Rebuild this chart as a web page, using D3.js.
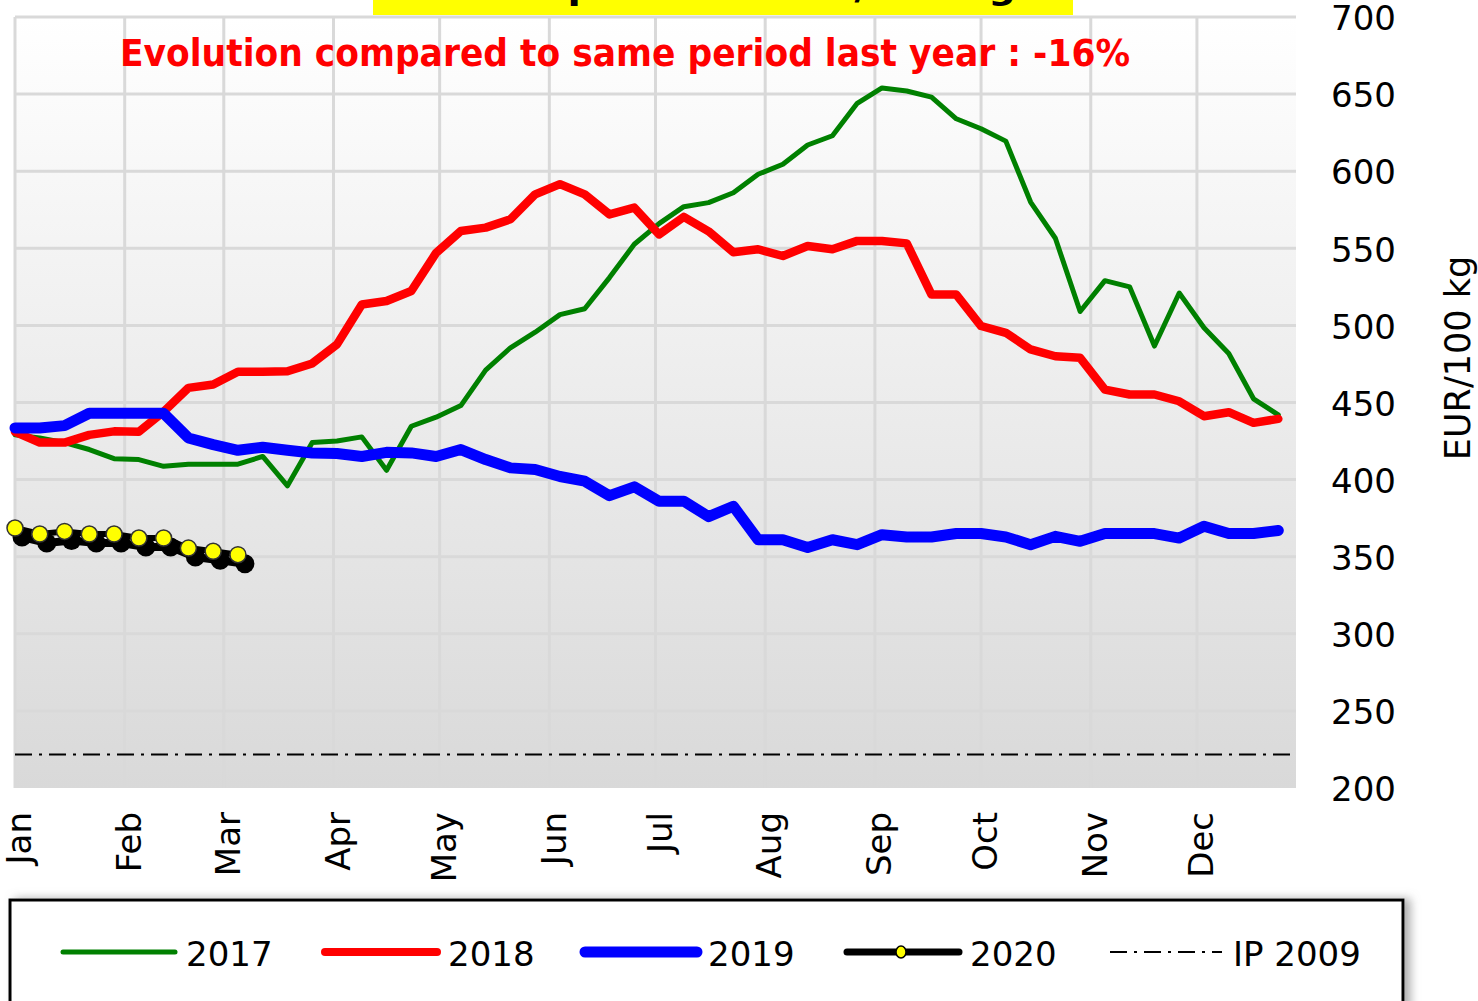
<!DOCTYPE html>
<html>
<head>
<meta charset="utf-8">
<script src="https://cdn.jsdelivr.net/npm/d3@7"></script>
<style>
  body { margin: 0; background: #fff; }
  svg { display: block; font-family: "DejaVu Sans", Verdana, sans-serif; }
</style>
</head>
<body>
<svg id="chart"></svg>
<script>
const W = 1478, H = 1001;

// weekly prices, EUR/100 kg
const weeks = d3.range(1, 53);
const months = ["Jan", "Feb", "Mar", "Apr", "May", "Jun", "Jul", "Aug", "Sep", "Oct", "Nov", "Dec"];
const yTicks = [200, 250, 300, 350, 400, 450, 500, 550, 600, 650, 700];

const p2017 = [429, 427, 424, 419.5, 413.6, 413, 408.6, 410, 410, 410, 415, 396, 424, 425, 427.7, 406,
  434.6, 440.5, 448, 471, 485.5, 495.6, 507, 510.8, 531, 552.6, 566, 577, 579.6, 586, 598, 604.5,
  617, 623, 644, 654, 652, 648, 634, 627.5, 619.5, 580, 556.5, 509, 529, 525, 486.6, 521, 498.5,
  481.8, 452.4, 442];
const p2018 = [431, 424, 424, 429, 431.3, 431, 444, 459.5, 461.7, 470, 470, 470.3, 475.3, 487.7, 513.6,
  515.8, 522.3, 547, 561.2, 563.4, 568.8, 585, 591.6, 585, 572, 576.4, 559, 570.4, 561, 547.5, 549.4,
  545, 551.5, 549.4, 554.8, 554.8, 553.2, 520, 520, 499.6, 495.2, 484.4, 480, 479, 458.4, 455.2,
  455.2, 450.8, 441.1, 443.7, 436.8, 439.4];
const p2019 = [433.5, 433.5, 435, 443, 443, 443, 443, 427, 422.7, 419, 421, 419, 417.3, 416.9, 415,
  417.7, 417.3, 415, 419.5, 413, 407.6, 406.5, 402, 399, 389.6, 395.3, 386, 386, 376, 382.7, 361,
  361, 356, 361, 357.8, 364.3, 362.8, 362.8, 365, 365, 362.8, 357.8, 363.2, 360, 365, 365, 365,
  362.1, 369.7, 365, 365, 367];
const p2020 = [368.6, 364.7, 366.4, 364.7, 364.7, 362.1, 362.1, 355.6, 353.5, 351.3];
const ip2009 = 221.75;

const titleText = "EU Butter prices in EUR/100 kg";
const subText = "Evolution compared to same period last year : -16%";
const yTitle = "EUR/100 kg";

const plot = { left: 15, right: 1296, top: 17, bottom: 788 };

const svg = d3.select('#chart').attr('width', W).attr('height', H);
const defs = svg.append('defs');

const grad = defs.append('linearGradient').attr('id', 'bg')
  .attr('x1', 0).attr('y1', 0).attr('x2', 0).attr('y2', 1);
grad.append('stop').attr('offset', '0%').attr('stop-color', '#ffffff');
grad.append('stop').attr('offset', '100%').attr('stop-color', '#d9d9d9');

const shadow = defs.append('filter').attr('id', 'shadow')
  .attr('x', '-5%').attr('y', '-30%').attr('width', '110%').attr('height', '160%');
shadow.append('feDropShadow').attr('dx', 6).attr('dy', 0)
  .attr('stdDeviation', 5).attr('flood-color', '#777').attr('flood-opacity', 0.6);

// the chart is built on weekly dates
const start = new Date(2019, 0, 1);
const weekDate = w => d3.timeDay.offset(start, 7 * (w - 1));
const x = d3.scaleTime()
  .domain([start, new Date(2019, 11, 29)])
  .range([plot.left, plot.right]);
const y = d3.scaleLinear().domain([200, 700]).range([plot.bottom, plot.top]);
const monthStarts = d3.timeMonth.range(start, new Date(2020, 0, 1));

// title box, cut off at the top of the picture
svg.append('rect')
  .attr('x', 373).attr('y', 0).attr('width', 700).attr('height', 15)
  .attr('fill', '#ffff00');
svg.append('text')
  .attr('x', 344).attr('y', -1)
  .attr('textLength', 672).attr('lengthAdjust', 'spacingAndGlyphs')
  .style('font-size', '36px').style('font-weight', 'bold')
  .text(titleText);

// plot background
svg.append('rect')
  .attr('x', plot.left).attr('y', plot.top)
  .attr('width', plot.right - plot.left).attr('height', plot.bottom - plot.top)
  .attr('fill', 'url(#bg)');

// grid
svg.append('g').selectAll('line')
  .data(yTicks.filter(d => d > 200))
  .enter().append('line')
  .attr('x1', plot.left).attr('x2', plot.right)
  .attr('y1', d => y(d)).attr('y2', d => y(d))
  .attr('stroke', '#d9d9d9').attr('stroke-width', 3);

svg.append('g').selectAll('line')
  .data(monthStarts)
  .enter().append('line')
  .attr('x1', d => x(d)).attr('x2', d => x(d))
  .attr('y1', plot.top).attr('y2', plot.bottom)
  .attr('stroke', '#d9d9d9').attr('stroke-width', 3);

// right axis labels
svg.append('g').selectAll('text')
  .data(yTicks)
  .enter().append('text')
  .attr('x', 1331).attr('y', d => y(d) + 1)
  .attr('dy', '0.36em')
  .style('font-size', '34px').attr('fill', '#000')
  .text(d => d);

svg.append('text')
  .attr('transform', 'translate(1470,358) rotate(-90)')
  .attr('text-anchor', 'middle')
  .style('font-size', '35px')
  .text(yTitle);

// month labels
svg.append('g').selectAll('text')
  .data(monthStarts)
  .enter().append('text')
  .attr('transform', (d, i) => 'translate(' + (x(d) + 4) + ',812) rotate(-90)')
  .attr('text-anchor', 'end')
  .attr('dy', '0.36em')
  .style('font-size', '34px')
  .text((d, i) => months[i]);

// IP 2009 line
svg.append('line')
  .attr('x1', plot.left).attr('x2', plot.right)
  .attr('y1', y(ip2009)).attr('y2', y(ip2009))
  .attr('stroke', '#000').attr('stroke-width', 2)
  .attr('stroke-dasharray', '17,7,3,7');

const line = d3.line()
  .x((d, i) => x(weekDate(weeks[i])))
  .y(d => y(d));

const series = [
  { values: p2017, color: '#008000', width: 5 },
  { values: p2018, color: '#ff0000', width: 8.5 },
  { values: p2019, color: '#0000ff', width: 11 }
];

series.forEach(function(s) {
  svg.append('path')
    .datum(s.values)
    .attr('d', line)
    .attr('fill', 'none')
    .attr('stroke', s.color)
    .attr('stroke-width', s.width)
    .attr('stroke-linejoin', 'round')
    .attr('stroke-linecap', 'round');
});

// 2020 with its drop shadow
const sh = svg.append('g').attr('transform', 'translate(7,9)');
sh.append('path').datum(p2020).attr('d', line)
  .attr('fill', 'none').attr('stroke', '#000').attr('stroke-width', 8);
sh.selectAll('circle').data(p2020).enter().append('circle')
  .attr('cx', (d, i) => x(weekDate(weeks[i]))).attr('cy', d => y(d))
  .attr('r', 9.5).attr('fill', '#000');

svg.append('path').datum(p2020).attr('d', line)
  .attr('fill', 'none').attr('stroke', '#000').attr('stroke-width', 6);
svg.append('g').selectAll('circle').data(p2020).enter().append('circle')
  .attr('cx', (d, i) => x(weekDate(weeks[i]))).attr('cy', d => y(d))
  .attr('r', 8).attr('fill', '#ffff00')
  .attr('stroke', '#333').attr('stroke-width', 1.5);

// red subtitle
svg.append('text')
  .attr('x', 120).attr('y', 66)
  .attr('textLength', 1010).attr('lengthAdjust', 'spacingAndGlyphs')
  .style('font-size', '37px').style('font-weight', 'bold')
  .attr('fill', '#ff0000')
  .text(subText);

// legend
const legend = svg.append('g');
legend.append('rect')
  .attr('x', 10).attr('y', 900).attr('width', 1393).attr('height', 110)
  .attr('fill', '#fff').attr('stroke', '#000').attr('stroke-width', 3)
  .attr('filter', 'url(#shadow)');

const legendItems = [
  { label: '2017', color: '#008000', width: 5, x: 63 },
  { label: '2018', color: '#ff0000', width: 8, x: 325 },
  { label: '2019', color: '#0000ff', width: 11, x: 585 },
  { label: '2020', color: '#000', width: 7, x: 847, marker: true },
  { label: 'IP 2009', color: '#000', width: 2, x: 1110, dash: '17,7,3,7' }
];

const li = legend.selectAll('g.item').data(legendItems).enter()
  .append('g').attr('class', 'item');
li.append('line')
  .attr('x1', d => d.x).attr('x2', d => d.x + 112)
  .attr('y1', 952).attr('y2', 952)
  .attr('stroke', d => d.color).attr('stroke-width', d => d.width)
  .attr('stroke-linecap', d => d.dash ? 'butt' : 'round')
  .attr('stroke-dasharray', d => d.dash || null);
li.filter(d => d.marker).append('ellipse')
  .attr('cx', d => d.x + 54).attr('cy', 952)
  .attr('rx', 5).attr('ry', 6)
  .attr('fill', '#ffff00').attr('stroke', '#000').attr('stroke-width', 1.5);
li.append('text')
  .attr('x', d => d.x + 123).attr('y', 966)
  .style('font-size', '34px')
  .text(d => d.label);
</script>
</body>
</html>
